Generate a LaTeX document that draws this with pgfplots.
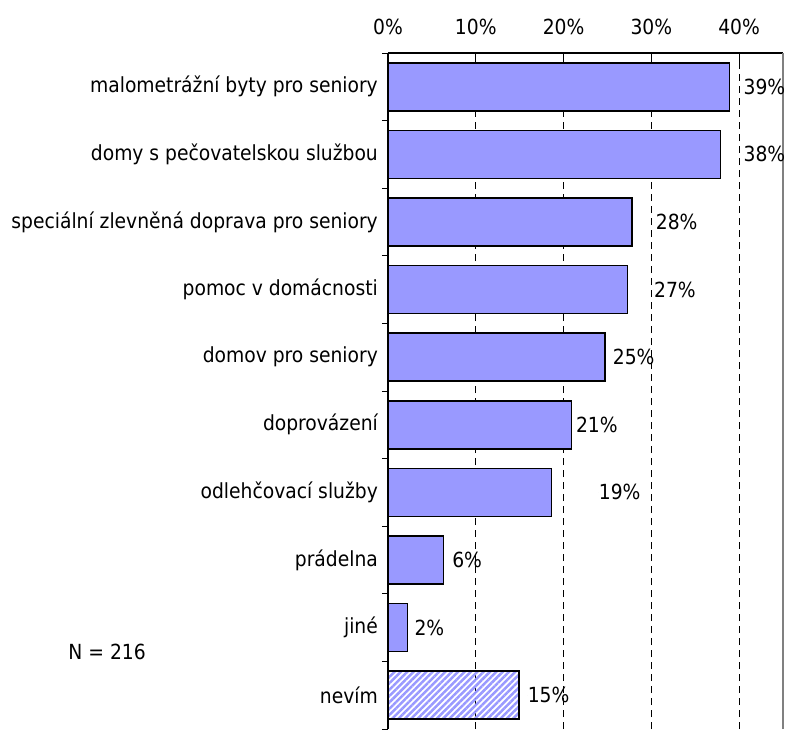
\documentclass[border=0pt]{standalone}
\usepackage{fontspec}
\setmainfont{DejaVu Sans Condensed}
\usepackage{pgfplots}
\pgfplotsset{compat=1.18}
\usetikzlibrary{patterns.meta}
\definecolor{barblue}{RGB}{153,153,255}
\begin{document}
\fontsize{20.8}{25}\selectfont
\begin{tikzpicture}
\useasboundingbox (-388pt,53pt) rectangle (399pt,-676pt);
\begin{axis}[
  at={(0pt,0pt)}, anchor=north west,
  scale only axis, width=395pt, height=676pt,
  xmin=0, xmax=45, ymin=-0.5, ymax=9.5,
  axis x line*=top, axis y line*=left,
  axis line style={black, line width=1.2pt},
  clip=false,
  /pgf/number format/assume math mode=true,
  xtick={0,10,20,30,40},
  xticklabels={0\%,10\%,20\%,30\%,40\%},
  major x tick style={black, line width=1pt},
  major tick length=9pt,
  x tick label style={yshift=11pt},
  ytick={0,...,9},
  yticklabels={nevím, jiné, prádelna, odlehčovací služby, doprovázení, domov pro seniory, pomoc v domácnosti, speciální zlevněná doprava pro seniory, domy s pečovatelskou službou, malometrážní byty pro seniory},
  major y tick style={draw=none},
  minor ytick={-0.5,0.5,...,9.5},
  minor y tick style={black, line width=1pt, xshift=-6pt},
  minor tick length=6pt,
  y tick label style={xshift=-3pt},
  xmajorgrids,
  grid style={black, line width=1pt, dash pattern=on 7pt off 5pt},
]
\addplot[xbar, bar width=48pt, bar shift=0pt, fill=barblue, draw=black, line width=1.5pt]
  coordinates {(38.9,9) (37.9,8) (27.8,7) (27.3,6) (24.7,5) (20.9,4) (18.6,3) (6.3,2) (2.2,1)};
\addplot[xbar, bar width=48pt, bar shift=0pt, draw=black, line width=1.5pt,
  pattern={Lines[angle=45,distance=4.5pt,line width=2.5pt]}, pattern color=barblue]
  coordinates {(14.9,0)};
\addplot[only marks, mark=*, mark size=0pt, mark options={draw=none, fill=none},
  nodes near coords={\pgfmathprintnumber{\pgfplotspointmeta}\%},
  point meta=explicit,
  nodes near coords style={anchor=west, inner sep=0pt}]
  table[meta=v, row sep=\\] {
  x y v\\
  40.5 9 39\\
  40.5 8 38\\
  30.5 7 28\\
  30.3 6 27\\
  25.6 5 25\\
  21.4 4 21\\
  24.0 3 19\\
  7.3 2 6\\
  3.0 1 2\\
  15.9 0 15\\
  };
\node at (axis cs:-32,0.64) {N = 216};
\draw[gray, line width=1.5pt] (rel axis cs:1,0) -- (rel axis cs:1,1);
\end{axis}
\end{tikzpicture}
\end{document}
